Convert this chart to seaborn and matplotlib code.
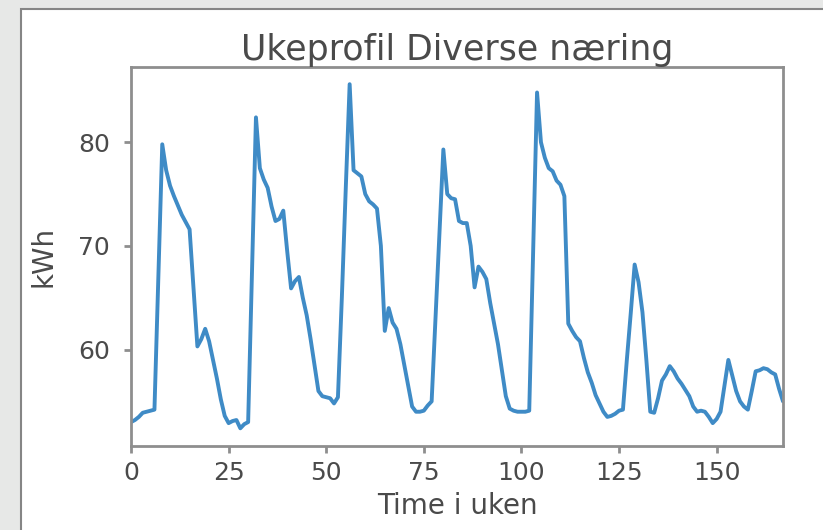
import numpy as np
import pandas as pd
import matplotlib
matplotlib.use("Agg")
import matplotlib.pyplot as plt
from matplotlib.patches import Rectangle
import seaborn as sns

# hourly kWh, one list per day (hour 0 = monday 00:00)
man = [53.0, 53.2, 53.5, 53.9, 54.0, 54.1, 54.2, 67.0, 79.8, 77.3, 75.8, 74.8,
       73.9, 73.0, 72.3, 71.6, 66.0, 60.3, 61.0, 62.0, 60.8, 59.0, 57.2, 55.2]
tir = [53.6, 52.9, 53.1, 53.2, 52.4, 52.8, 53.0, 67.5, 82.4, 77.5, 76.4, 75.6,
       73.8, 72.4, 72.6, 73.4, 69.5, 65.9, 66.6, 67.0, 65.0, 63.3, 61.0, 58.5]
ons = [56.0, 55.5, 55.4, 55.3, 54.8, 55.4, 65.0, 75.5, 85.6, 77.3, 77.0, 76.7,
       75.0, 74.3, 74.0, 73.6, 70.0, 61.8, 64.0, 62.6, 62.0, 60.5, 58.5, 56.5]
tor = [54.5, 54.0, 54.0, 54.1, 54.6, 55.0, 63.0, 71.2, 79.3, 75.0, 74.6, 74.5,
       72.4, 72.2, 72.2, 70.0, 66.0, 68.0, 67.5, 66.8, 64.5, 62.5, 60.5, 58.0]
fre = [55.5, 54.3, 54.1, 54.0, 54.0, 54.0, 54.1, 69.5, 84.8, 80.0, 78.5, 77.5,
       77.2, 76.3, 75.9, 74.8, 62.5, 61.8, 61.2, 60.8, 59.2, 57.8, 56.8, 55.6]
lor = [54.8, 54.0, 53.5, 53.6, 53.8, 54.1, 54.2, 59.0, 63.5, 68.2, 66.5, 63.6,
       59.0, 54.0, 53.9, 55.3, 57.0, 57.6, 58.4, 57.9, 57.2, 56.7, 56.1, 55.5]
son = [54.5, 54.0, 54.1, 54.0, 53.5, 52.9, 53.3, 54.0, 56.5, 59.0, 57.5, 56.0,
       55.0, 54.5, 54.2, 56.0, 57.9, 58.0, 58.2, 58.1, 57.8, 57.6, 56.2, 55.0]

kwh = man + tir + ons + tor + fre + lor + son
hours = np.arange(len(kwh))

df = pd.DataFrame({'time': hours, 'kWh': kwh})

sns.set_style("white")
plt.rcParams['font.family'] = ['DejaVu Sans']

txt = '#4a4a4a'
spine = '#8e8e8e'

fig = plt.figure(figsize=(8.23, 5.3), dpi=100)
fig.patch.set_facecolor('#e7e8e7')
# white panel of the screenshot
fig.add_artist(Rectangle((21 / 823, -0.1), 1.2, 1 - 9 / 530 + 0.1,
                         transform=fig.transFigure, facecolor='white',
                         edgecolor='#858585', linewidth=1.5, zorder=0))

ax = fig.add_axes([0.1592, 0.1594, 0.7922, 0.7142])
sns.lineplot(data=df, x='time', y='kWh', color='#3f8bc6', linewidth=2.8, ax=ax)

ax.set_xlim(0, 167)
ax.set_xticks([0, 25, 50, 75, 100, 125, 150])
ax.set_yticks([60, 70, 80])

ax.set_title("Ukeprofil Diverse næring", fontsize=25, color=txt, pad=5)
ax.set_xlabel("Time i uken", fontsize=20, color=txt)
ax.set_ylabel("kWh", fontsize=20, color=txt)
ax.xaxis.set_label_coords(0.5, -0.122)
ax.yaxis.set_label_coords(-0.112, 0.5)

for s in ax.spines.values():
    s.set_color(spine)
    s.set_linewidth(2.0)
ax.tick_params(axis='both', which='major', labelsize=18, colors=txt,
               length=5, width=2.0, color=spine, left=True, bottom=True)
ax.tick_params(axis='x', pad=6)
ax.tick_params(axis='y', pad=10)

fig.savefig('out.png', dpi=100, facecolor=fig.get_facecolor())
